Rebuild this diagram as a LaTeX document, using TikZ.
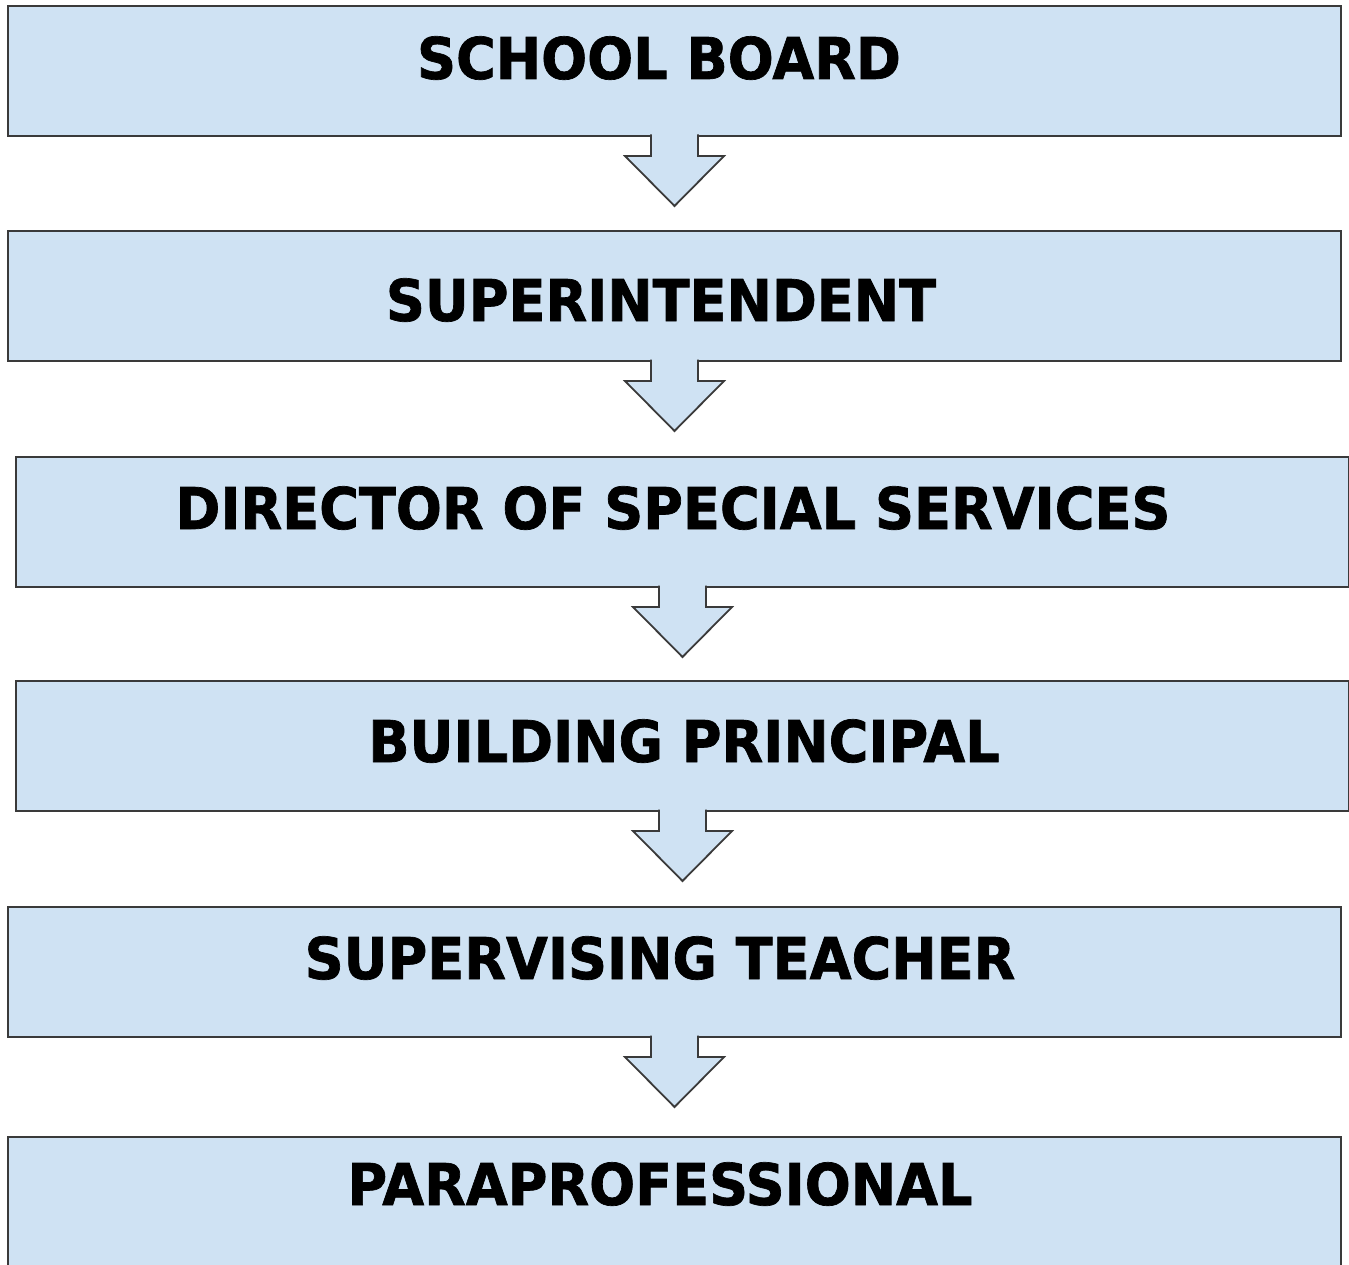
\documentclass[tikz,border=0pt]{standalone}
\usepackage{fontspec}
\newfontfamily\chartfont[FakeStretch=0.94, FakeBold=1.2]{DejaVu Sans}
\usetikzlibrary{positioning}
\definecolor{boxfill}{HTML}{CFE2F3}
\definecolor{boxline}{HTML}{3A3A3A}

\begin{document}
\begin{tikzpicture}[x=1pt, y=-1pt, thick]
\tikzstyle{level} = [rectangle, draw=boxline, fill=boxfill, line width=2.2pt, minimum width=1333pt, minimum height=130pt, inner sep=0pt, outer sep=0pt, anchor=north west]
\tikzstyle{title} = [inner sep=0pt, anchor=base, font=\chartfont\bfseries\fontsize{57.6}{60}\selectfont]
\tikzstyle{down} = [draw=boxline, fill=boxfill, line width=1.8pt, line join=miter]
\useasboundingbox (0,0) rectangle (1349,1265);
\node[level] (board) at (8,6) {};
\node[level] (super) at (8,231) {};
\node[level] (dir) at (16,457) {};
\node[level] (princ) at (16,681) {};
\node[level] (teach) at (8,907) {};
\node[level, minimum height=160pt] (para) at (8,1137) {};
\node[title] (boardtxt) at (659,79) {SCHOOL BOARD};
\node[title] (supertxt) at (661,321) {SUPERINTENDENT};
\node[title] (dirtxt) at (673,529) {DIRECTOR OF SPECIAL SERVICES};
\node[title] (princtxt) at (684,762) {BUILDING PRINCIPAL};
\node[title] (teachtxt) at (660,979) {SUPERVISING TEACHER};
\node[title] (paratxt) at (660,1205) {PARAPROFESSIONAL};
\foreach \a in {board, super, dir, princ, teach}
\path[down] (\a.south) ++(-23.5,-1.5) -- ++(0,21.5) -- ++(-26,0) -- ++(49.5,50) -- ++(49.5,-50) -- ++(-26,0) -- ++(0,-21.5);
\end{tikzpicture}
\end{document}
